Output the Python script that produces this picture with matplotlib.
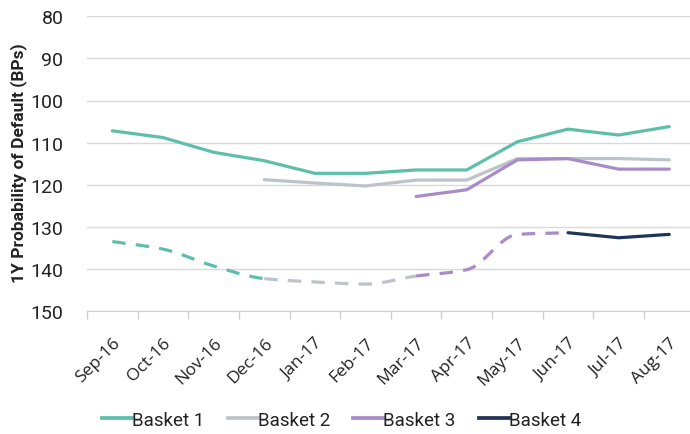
import numpy as np
import matplotlib
matplotlib.use("Agg")
import matplotlib.pyplot as plt
from matplotlib.lines import Line2D

plt.rcParams['font.family'] = ['Roboto', 'DejaVu Sans']

months = ["Sep-16", "Oct-16", "Nov-16", "Dec-16", "Jan-17", "Feb-17",
          "Mar-17", "Apr-17", "May-17", "Jun-17", "Jul-17", "Aug-17"]

# Live basket values (1Y PD, bps); None before inception
basket1 = [107.2, 108.8, 112.3, 114.3, 117.3, 117.3, 116.5, 116.5, 109.8, 106.8, 108.2, 106.2]
basket2 = [None, None, None, 118.8, 119.6, 120.3, 118.9, 118.9, 113.8, 113.8, 113.8, 114.1]
basket3 = [None, None, None, None, None, None, 122.8, 121.2, 114.1, 113.8, 116.3, 116.3]
basket4 = [None, None, None, None, None, None, None, None, None, 131.4, 132.6, 131.8]

# Back-tested path preceding each basket's successor (dashed)
backtest1 = [133.5, 135.3, 139.3, 142.3]           # Sep-16 .. Dec-16
backtest2 = [142.3, 143.1, 143.6, 141.7]           # Dec-16 .. Mar-17
backtest3 = [141.7, 140.2, 131.8, 131.4]           # Mar-17 .. Jun-17
backtest_starts = [0, 3, 6]

labels = ["Basket 1", "Basket 2", "Basket 3", "Basket 4"]
colors = ["#5dbfa9", "#bcc3ca", "#a98bc8", "#1f3457"]

y_ticks = [80, 90, 100, 110, 120, 130, 140, 150]

W, H = 690, 435
fig = plt.figure(figsize=(W / 100, H / 100), dpi=100)
ax = fig.add_axes([87 / W, 1 - 312 / H, (694.6 - 87) / W, (312 - 17.3) / H])

x = np.arange(len(months))
LW = 2.3


def monotone(xs, ys, n=30):
    """Monotone cubic (Fritsch-Carlson) curve through the points."""
    xs = np.asarray(xs, float)
    ys = np.asarray(ys, float)
    h = np.diff(xs)
    d = np.diff(ys) / h
    m = np.zeros_like(ys)
    m[0], m[-1] = d[0], d[-1]
    for i in range(1, len(ys) - 1):
        if d[i - 1] * d[i] <= 0:
            m[i] = 0.0
        else:
            w1 = 2 * h[i] + h[i - 1]
            w2 = h[i] + 2 * h[i - 1]
            m[i] = (w1 + w2) / (w1 / d[i - 1] + w2 / d[i])
    ox, oy = [], []
    for i in range(len(xs) - 1):
        t = np.linspace(0, 1, n, endpoint=(i == len(xs) - 2))
        h00 = 2 * t ** 3 - 3 * t ** 2 + 1
        h10 = t ** 3 - 2 * t ** 2 + t
        h01 = -2 * t ** 3 + 3 * t ** 2
        h11 = t ** 3 - t ** 2
        ox.extend(xs[i] + t * h[i])
        oy.extend(h00 * ys[i] + h10 * h[i] * m[i] + h01 * ys[i + 1] + h11 * h[i] * m[i + 1])
    return np.array(ox), np.array(oy)


# dashed back-test segments, joined into one smooth path
segs = [backtest1, backtest2, backtest3]
bt_x, bt_y = [], []
for start, seg in zip(backtest_starts, segs):
    for i, v in enumerate(seg):
        if not bt_x or bt_x[-1] != start + i:
            bt_x.append(start + i)
            bt_y.append(v)
sx, sy = monotone(bt_x, bt_y)
for k, (start, seg) in enumerate(zip(backtest_starts, segs)):
    end = start + len(seg) - 1
    m = (sx >= start - 1e-9) & (sx <= end + 1e-9)
    ax.plot(sx[m], sy[m], color=colors[k], lw=LW, ls=(0, (4.2, 3.2)),
            dash_capstyle='butt', zorder=2)

# live basket lines
for series, c, lab in zip([basket1, basket2, basket3, basket4], colors, labels):
    xi = [i for i, v in enumerate(series) if v is not None]
    yi = [v for v in series if v is not None]
    ax.plot(xi, yi, color=c, lw=LW, solid_capstyle='round',
            solid_joinstyle='round', zorder=3, label=lab)

ax.set_xlim(-0.5, len(months) - 0.5)
ax.set_ylim(150, 80)
ax.set_yticks(y_ticks)
ax.tick_params(axis='y', length=0, labelsize=14, labelcolor="#222222", pad=17)
ax.yaxis.grid(True, color="#d9d9d9", lw=1)
ax.set_axisbelow(True)

ax.set_xticks(x)
ax.set_xticklabels(months, rotation=45, ha='right', rotation_mode='anchor',
                   fontsize=12.5, color="#222222", family=['Open Sans', 'DejaVu Sans'])
ax.set_xticks(np.arange(-0.5, len(months) + 0.5, 1), minor=True)
ax.tick_params(axis='x', which='major', length=0, pad=17)
ax.tick_params(axis='x', which='minor', length=6, color="#d0d0d0", width=1)

for s in ["top", "right", "left"]:
    ax.spines[s].set_visible(False)
ax.spines["bottom"].set_color("#d0d0d0")

fig.text(19 / W, 1 - 163 / H, "1Y Probability of Default (BPs)", rotation=90,
         ha='center', va='center', fontsize=12.5, fontweight='bold', color="#222222")

handles = [Line2D([0], [0], color=c, lw=LW + 0.4) for c in colors]
fig.legend(handles, labels, loc='center', bbox_to_anchor=(0.495, 1 - 421 / H),
           ncol=4, frameon=False, fontsize=13.5, handlelength=1.6, handletextpad=0.0,
           columnspacing=1.25, labelcolor="#222222")

fig.savefig("out.png", dpi=100)
